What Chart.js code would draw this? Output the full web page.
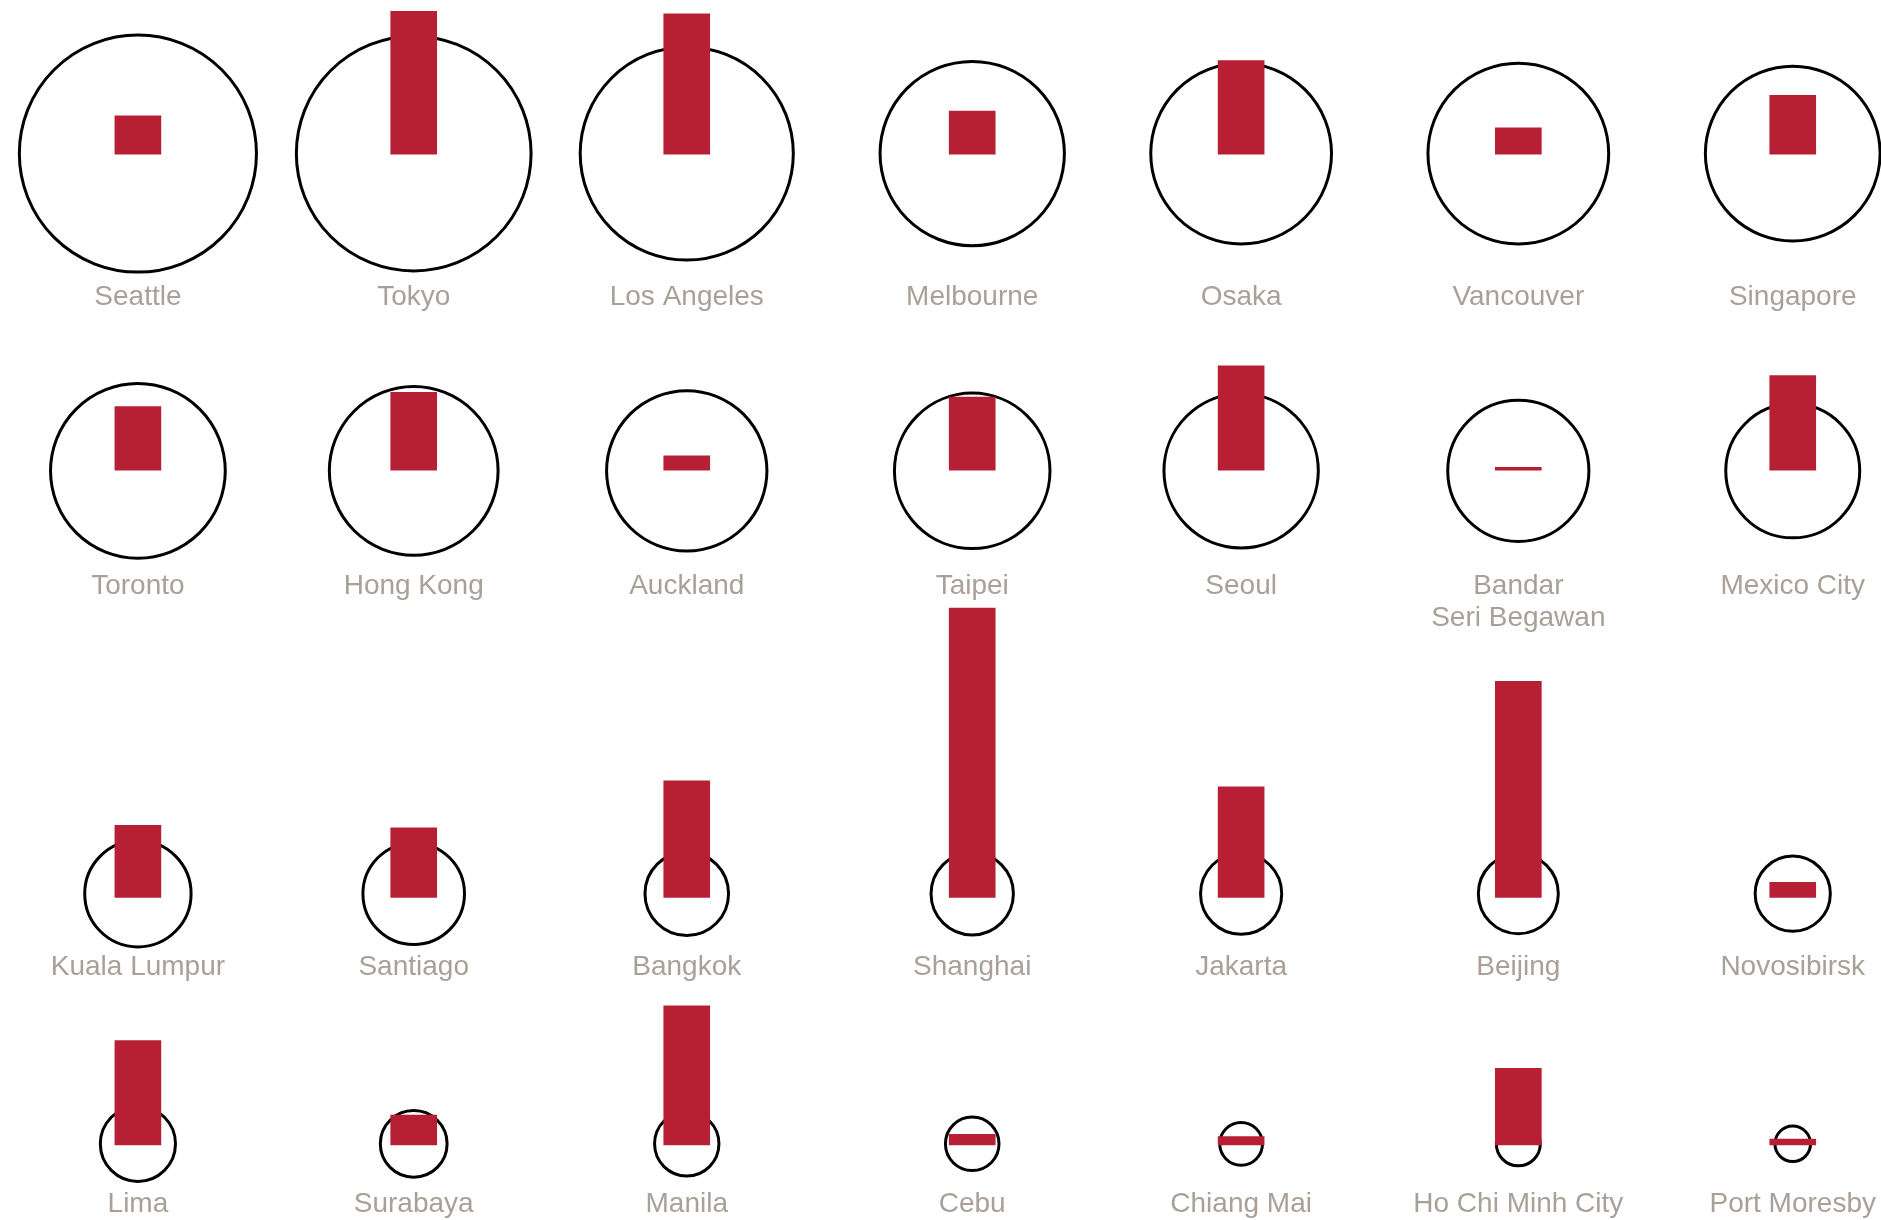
<!DOCTYPE html>
<html>
<head>
<meta charset="utf-8">
<script src="https://cdn.jsdelivr.net/npm/chart.js@4"></script>
<style>
  html, body { margin: 0; padding: 0; background: #fff; }
  #wrap { width: 1881px; height: 1220px; position: relative; }
</style>
</head>
<body>
<div id="wrap"><canvas id="graphs"></canvas></div>
<script>
// cities, read row by row (7 per row)
const cities = [
  'Seattle', 'Tokyo', 'Los Angeles', 'Melbourne', 'Osaka', 'Vancouver', 'Singapore',
  'Toronto', 'Hong Kong', 'Auckland', 'Taipei', 'Seoul', 'Bandar\nSeri Begawan', 'Mexico City',
  'Kuala Lumpur', 'Santiago', 'Bangkok', 'Shanghai', 'Jakarta', 'Beijing', 'Novosibirsk',
  'Lima', 'Surabaya', 'Manila', 'Cebu', 'Chiang Mai', 'Ho Chi Minh City', 'Port Moresby'
];

// circle size (radius, same units as the bars)
const circleSizes = [
  100, 99, 90, 78, 76.5, 76.5, 74,
  74, 71.5, 68, 66, 65.5, 60, 57,
  45.5, 43.5, 36, 35.5, 35, 34.5, 32.5,
  32.5, 29, 28, 23.5, 19, 19.5, 16
];

// bar values
const barValues = [
  32, 119, 117, 36, 78, 22, 49,
  53, 65, 12, 61, 87, 2.5, 79,
  60, 58, 97, 241, 92, 180, 12.5,
  87, 25, 116, 9, 7, 64, 5
];

// layout of the grid
const nbCols = 7;
const colonnes = [0, 1, 1.99, 3.025, 4, 5.005, 6];
const yMax = 1017;
const hauteur = 1220;
const rowCenters = [128, 392.5, 745, 953.5];
const rowBars = [128.5, 392, 748, 954.5];
const rowLabels = [247.5, 488.5, 806.5, 1004];

// bubble radius is in pixels: convert the size with the y units
var pxParUnite = hauteur / yMax;
var bulles = cities.map((c, i) => ({
    x: colonnes[i % nbCols],
    y: rowCenters[Math.floor(i / nbCols)],
    r: circleSizes[i] * pxParUnite - 1.4
}));
var barres = cities.map((c, i) => {
    var base = rowBars[Math.floor(i / nbCols)];
    return { x: colonnes[i % nbCols], y: [base - barValues[i], base] };
});

const etiquettes = {
    id: 'etiquettes',
    afterDatasetsDraw(chart) {
        const ctx = chart.ctx;
        const sx = chart.scales.x, sy = chart.scales.y;
        ctx.save();
        ctx.fillStyle = '#a9a097';
        ctx.font = '28px "Liberation Sans", Arial, sans-serif';
        ctx.textAlign = 'center';
        ctx.textBaseline = 'middle';
        cities.forEach((nom, i) => {
            var x = sx.getPixelForValue(colonnes[i % nbCols]);
            var y = sy.getPixelForValue(rowLabels[Math.floor(i / nbCols)]);
            nom.split('\n').forEach((ligne, k) => {
                ctx.fillText(ligne, x, y + k * 32);
            });
        });
        ctx.restore();
    }
};

var ctx = document.getElementById('graphs').getContext('2d');
var monGraphique = new Chart(ctx, {
    type: 'bar',
    data: {
        datasets: [{
            type: 'bar',
            data: barres,
            backgroundColor: '#b72034',
            borderWidth: 0,
            barThickness: 46,
            minBarLength: 3,
            clip: false,
            order: 0
        }, {
            type: 'bubble',
            data: bulles,
            backgroundColor: 'rgba(0,0,0,0)',
            borderColor: '#000',
            borderWidth: 3,
            clip: false,
            order: 1
        }]
    },
    options: {
        responsive: true,
        maintainAspectRatio: false,
        animation: false,
        events: [],
        layout: { padding: 0, autoPadding: false },
        scales: {
            x: { type: 'linear', min: -0.5, max: 6.32, offset: false, display: false },
            y: { type: 'linear', min: 0, max: yMax, reverse: true, display: false }
        },
        plugins: {
            legend: { display: false },
            tooltip: { enabled: false }
        }
    },
    plugins: [etiquettes]
});
</script>
</body>
</html>
